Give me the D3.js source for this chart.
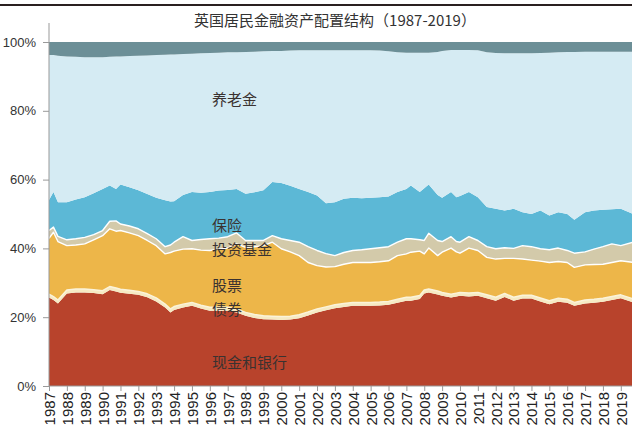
<!DOCTYPE html>
<html><head><meta charset="utf-8">
<script src="https://cdn.jsdelivr.net/npm/d3@7"></script>
<style>body{margin:0;background:#fff}svg{display:block}</style>
</head><body>
<svg id="chart" width="632" height="438"></svg>
<script>
// ---- data (share of household financial assets, %) ----
const title = "英国居民金融资产配置结构（1987-2019）";
const periods = [1987.0,1987.25,1987.5,1988.0,1988.5,1989.0,1989.5,1990.0,1990.4,1990.75,1991.0,1991.5,1992.0,1992.5,1993.0,1993.5,1993.8,1994.0,1994.5,1995.0,1995.5,1996.0,1996.5,1997.0,1997.5,1998.0,1998.5,1999.0,1999.5,2000.0,2000.5,2001.0,2001.5,2002.0,2002.5,2003.0,2003.5,2004.0,2004.5,2005.0,2005.5,2006.0,2006.5,2007.0,2007.25,2007.75,2008.0,2008.25,2008.75,2009.0,2009.5,2009.8,2010.0,2010.5,2011.0,2011.5,2012.0,2012.5,2013.0,2013.5,2014.0,2014.5,2015.0,2015.5,2016.0,2016.4,2017.0,2017.5,2018.0,2018.5,2019.0,2019.7];
const cash      = [25.7,25.0,24.0,26.9,27.2,27.2,27.0,26.7,27.9,27.5,27.1,26.8,26.5,25.8,24.6,22.8,21.4,22.1,22.8,23.3,22.5,21.9,21.9,21.9,21.4,20.4,19.8,19.4,19.3,19.2,19.3,19.7,20.5,21.4,22.0,22.6,23.0,23.3,23.3,23.3,23.4,23.6,24.2,24.8,24.8,25.3,26.9,27.2,26.6,26.2,25.7,26.0,26.2,26.0,26.2,25.5,24.8,25.9,24.8,25.4,25.4,24.6,23.8,24.5,24.2,23.3,24.0,24.2,24.5,25.0,25.5,24.3];
const bonds     = [1.0,1.0,1.0,1.0,1.0,1.0,1.0,1.0,1.0,1.0,1.0,1.0,1.0,1.0,1.0,1.0,1.0,1.0,1.0,1.0,1.0,1.0,1.0,1.0,1.0,1.0,1.0,1.0,1.0,1.0,1.0,1.0,1.0,1.0,1.0,1.0,1.0,1.0,1.0,1.0,1.0,1.0,1.0,1.0,1.0,1.0,1.0,1.0,1.0,1.0,1.0,1.0,1.0,1.0,1.0,1.0,1.0,1.0,1.0,1.0,1.0,1.0,1.0,1.0,1.0,1.0,1.0,1.0,1.0,1.0,1.0,1.0];
const stocks    = [16.2,18.7,17.0,12.9,12.8,13.1,14.5,16.0,16.8,16.5,17.1,16.7,16.2,15.5,15.2,14.6,16.4,16.1,16.0,15.6,16.0,16.5,16.9,17.2,18.9,18.9,19.7,20.4,21.5,19.7,18.7,17.2,14.4,12.6,11.6,11.1,11.4,11.6,11.6,11.6,11.7,11.8,12.7,12.6,13.1,12.9,10.5,11.9,10.3,11.7,13.4,12.0,11.4,13.1,12.2,10.9,11.1,10.2,11.3,10.5,10.2,10.7,11.1,10.7,10.7,10.2,10.2,10.1,9.9,9.9,9.9,10.6];
const funds     = [2.3,1.5,1.5,1.7,1.8,1.9,1.5,1.5,2.2,3.0,1.9,2.0,2.0,2.0,2.0,2.1,2.2,2.6,3.6,2.4,3.1,3.4,3.2,3.3,3.2,2.0,1.8,1.5,1.9,2.9,3.3,3.9,4.6,4.4,3.9,3.2,3.4,3.5,3.7,4.0,4.1,4.1,3.9,4.4,3.9,3.3,3.9,4.3,4.4,3.1,3.3,3.0,3.2,3.3,2.9,3.1,3.0,3.1,2.9,3.9,3.9,3.6,3.7,3.9,3.5,4.1,3.8,4.5,5.1,5.4,4.4,5.9];
const insurance = [8.9,10.2,9.9,10.9,11.4,11.7,12.0,12.1,10.4,9.3,11.5,11.3,11.2,11.5,11.9,13.5,12.6,11.9,12.1,14.1,13.6,13.6,13.8,13.6,12.8,13.6,14.0,14.6,15.6,16.2,15.9,15.5,15.9,16.0,14.6,15.5,15.6,15.3,15.0,14.8,14.7,14.6,14.6,14.5,15.5,13.9,15.2,14.2,13.2,12.7,13.0,12.9,13.4,13.0,12.6,11.5,11.6,10.8,11.5,9.7,9.5,11.1,10.0,10.4,10.6,9.7,11.5,11.2,10.7,10.1,10.7,8.2];
const pensions  = [42.1,39.8,42.6,42.4,41.5,40.7,39.6,38.3,37.4,38.5,37.2,38.1,39.1,40.3,41.5,42.3,42.8,42.7,41.0,40.2,40.5,40.4,40.1,40.0,39.7,41.2,40.9,40.4,38.1,38.4,39.3,40.3,41.2,42.2,44.5,44.2,43.2,42.9,43.0,42.9,42.6,42.2,40.6,39.6,38.6,40.5,39.4,38.3,41.6,42.7,41.3,42.8,42.5,41.3,42.7,45.0,45.3,45.7,45.2,46.2,46.7,45.8,47.3,46.5,47.1,48.8,46.7,46.2,46.0,45.8,45.7,47.2];
const other     = [3.8,3.8,4.0,4.2,4.3,4.4,4.4,4.4,4.3,4.2,4.2,4.1,4.0,3.9,3.8,3.7,3.6,3.6,3.5,3.4,3.3,3.2,3.1,3.0,3.0,2.9,2.8,2.7,2.6,2.6,2.5,2.4,2.4,2.4,2.4,2.4,2.4,2.4,2.4,2.4,2.5,2.7,3.0,3.1,3.1,3.1,3.1,3.1,2.9,2.6,2.3,2.3,2.3,2.3,2.4,3.0,3.2,3.3,3.3,3.3,3.3,3.2,3.1,3.0,2.9,2.9,2.8,2.8,2.8,2.8,2.8,2.8];
const seriesNames = ["现金和银行","债券","股票","投资基金","保险","养老金","其他"];
const xTicks = d3.range(1987, 2020);
const yTicks = [0,20,40,60,80,100];

// ---- build table ----
const keys = ["cash","bonds","stocks","funds","insurance","pensions","other"];
const cols = {cash,bonds,stocks,funds,insurance,pensions,other};
const table = periods.map((t,i)=>{const r={t}; keys.forEach(k=>r[k]=cols[k][i]); return r;});
const colors = {cash:"#B8432C",bonds:"#F6EAC3",stocks:"#EDB649",funds:"#D3CAAA",insurance:"#5CB8D6",pensions:"#D5EBF3",other:"#6C8F97"};

const svg = d3.select("#chart");
const x = d3.scaleLinear().domain([1987,2019]).range([49,620.8]);
const y = d3.scaleLinear().domain([0,100]).range([386,42]);

const stack = d3.stack().keys(keys);
const layers = stack(table);
const area = d3.area().x(d=>x(d.data.t)).y0(d=>y(d[0])).y1(d=>y(d[1]));
const line = d3.line().x(d=>x(d.data.t)).y(d=>y(d[1]));

svg.append("g").selectAll("path").data(layers).join("path")
  .attr("d",area).attr("fill",d=>colors[d.key]);

// white separators
svg.append("g").selectAll("path").data(layers.filter(l=>["bonds","stocks","funds"].includes(l.key))).join("path")
  .attr("d",line).attr("fill","none")
  .attr("stroke",d=>d.key==="bonds"?"#FBF3DA":"#FFFFFF")
  .attr("stroke-width",d=>d.key==="bonds"?1.5:1.4).attr("stroke-linejoin","round");

// top rule + title
svg.append("line").attr("x1",0).attr("x2",632).attr("y1",5).attr("y2",5).attr("stroke","#2a2020").attr("stroke-width",2);
svg.append("text").attr("x",335).attr("y",26).attr("text-anchor","middle")
  .attr("font-family","'Noto Sans CJK SC',sans-serif").attr("font-size",15).attr("fill","#333").text(title);

// y axis
const yAxis = svg.append("g").attr("transform","translate(49,0)")
  .call(d3.axisLeft(y).tickValues(yTicks).tickFormat(d=>d+"%").tickSize(6).tickPadding(7));
yAxis.select(".domain").remove();
yAxis.selectAll(".tick line").attr("stroke","#999");
yAxis.selectAll("text").attr("font-family","'Liberation Sans',Arial,sans-serif").attr("font-size",13).attr("fill","#333");
svg.append("line").attr("x1",49).attr("x2",49).attr("y1",23).attr("y2",386).attr("stroke","#999");

// x axis
const xAxis = svg.append("g").attr("transform","translate(0,386)")
  .call(d3.axisBottom(x).tickValues(xTicks).tickFormat(d=>String(d)).tickSize(5));
xAxis.select(".domain").attr("stroke","#999").attr("d","M49,0H632");
xAxis.selectAll(".tick line").attr("stroke","#999");
xAxis.selectAll("text").attr("transform","rotate(-90)").attr("text-anchor","end")
  .attr("x",-6).attr("y",0).attr("dy","0.36em")
  .attr("font-family","'Liberation Sans',Arial,sans-serif").attr("font-size",15).attr("fill","#222");

// series labels
const labelPos = {pensions:[212,105],insurance:[212,231],funds:[212,255],stocks:[212,291],bonds:[212,315],cash:[212,368]};
Object.entries(labelPos).forEach(([k,p])=>{
  svg.append("text").attr("x",p[0]).attr("y",p[1])
    .attr("font-family","'Noto Sans CJK SC',sans-serif").attr("font-size",15).attr("fill","#3a3230")
    .text(seriesNames[keys.indexOf(k)]);
});
</script>
</body></html>
